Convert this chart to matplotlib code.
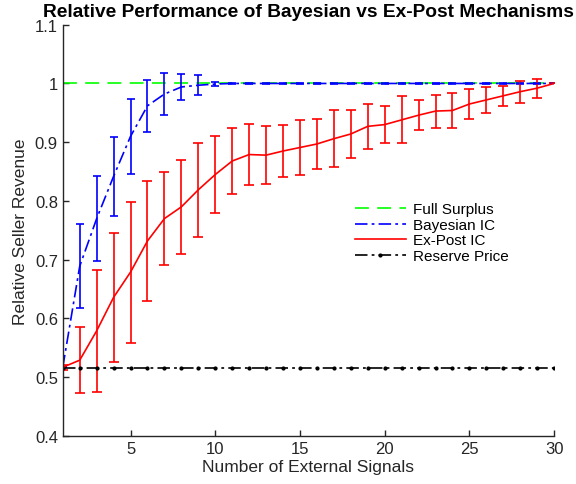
import matplotlib
matplotlib.use("Agg")
import matplotlib.pyplot as plt
from matplotlib.lines import Line2D

plt.rcParams['font.family'] = ['Liberation Sans', 'DejaVu Sans']
plt.rcParams['lines.scale_dashes'] = False

signals = list(range(1, 31))
full_surplus = [1.0] * 30
bayes_mean = [0.517, 0.689, 0.770, 0.842, 0.910, 0.962, 0.982, 0.994, 0.997, 0.999,
              1.0, 1.0, 1.0, 1.0, 1.0, 1.0, 1.0, 1.0, 1.0, 1.0,
              1.0, 1.0, 1.0, 1.0, 1.0, 1.0, 1.0, 1.0, 1.0, 1.0]
bayes_err = [0.0, 0.0715, 0.072, 0.0675, 0.064, 0.044, 0.035, 0.022, 0.017, 0.004,
             0.001, 0.001, 0.001, 0.001, 0.001, 0.001, 0.001, 0.001, 0.001, 0.001,
             0.001, 0.001, 0.001, 0.001, 0.001, 0.001, 0.001, 0.001, 0.001, 0.0]
expost_mean = [0.517, 0.529, 0.579, 0.636, 0.679, 0.732, 0.770, 0.790, 0.819, 0.845,
               0.868, 0.879, 0.878, 0.885, 0.891, 0.897, 0.906, 0.914, 0.927, 0.930,
               0.938, 0.946, 0.953, 0.954, 0.965, 0.972, 0.979, 0.986, 0.992, 1.000]
expost_err = [0.004, 0.056, 0.104, 0.110, 0.120, 0.102, 0.079, 0.080, 0.080, 0.065,
              0.056, 0.052, 0.049, 0.045, 0.046, 0.043, 0.048, 0.041, 0.038, 0.032,
              0.040, 0.025, 0.028, 0.029, 0.026, 0.022, 0.017, 0.019, 0.016, 0.0]
reserve = [0.516] * 30

series_labels = ['Full Surplus', 'Bayesian IC', 'Ex-Post IC', 'Reserve Price']
xticks = [5, 10, 15, 20, 25, 30]
yticks = [0.4, 0.5, 0.6, 0.7, 0.8, 0.9, 1.0, 1.1]
ytick_labels = ['0.4', '0.5', '0.6', '0.7', '0.8', '0.9', '1', '1.1']

green, blue, red = '#00ff00', '#0000ff', '#ff0000'
dashdot = (9, 3, 2, 3)

fig = plt.figure(figsize=(5.76, 4.85), dpi=100)
ax = fig.add_axes([0.109, 0.099, 0.853, 0.848])

ax.plot(signals, full_surplus, color=green, lw=1.2, dashes=(10, 6))
ax.errorbar(signals, bayes_mean, yerr=bayes_err, color=blue, lw=1.2,
            dashes=dashdot, capsize=3.2, elinewidth=1.2, capthick=1.2)
ax.errorbar(signals, expost_mean, yerr=expost_err, color=red, lw=1.2,
            capsize=3.6, elinewidth=1.2, capthick=1.2)
ax.plot(signals, reserve, color='black', lw=1.2, dashes=dashdot,
        marker='.', markersize=4)

ax.set_xlim(1, 30)
ax.set_ylim(0.4, 1.1)
ax.set_xticks(xticks)
ax.set_yticks(yticks)
ax.set_yticklabels(ytick_labels)
for s in ['top', 'right']:
    ax.spines[s].set_visible(False)
for s in ['left', 'bottom']:
    ax.spines[s].set_color('#262626')
    ax.spines[s].set_linewidth(1.0)
ax.tick_params(direction='in', length=4, width=1.0, colors='#262626',
               labelsize=12, labelcolor='#262626')

ax.set_xlabel('Number of External Signals', fontsize=12.5, color='#262626', labelpad=2)
ax.set_ylabel('Relative Seller Revenue', fontsize=12.5, color='#262626', labelpad=5)
ax.set_title('Relative Performance of Bayesian vs Ex-Post Mechanisms',
             fontsize=13.8, fontweight='bold', pad=6)

handles = [
    Line2D([], [], color=green, lw=1.2, dashes=(10, 6)),
    Line2D([], [], color=blue, lw=1.2, dashes=dashdot),
    Line2D([], [], color=red, lw=1.2),
    Line2D([], [], color='black', lw=1.2, dashes=dashdot, marker='.', markersize=4),
]
ax.legend(handles, series_labels, loc='upper left', bbox_to_anchor=(0.595, 0.568),
          frameon=False, fontsize=11, labelspacing=0.1, handlelength=3.3,
          handletextpad=0.5, borderpad=0, borderaxespad=0)

fig.savefig('out.png', dpi=100)
